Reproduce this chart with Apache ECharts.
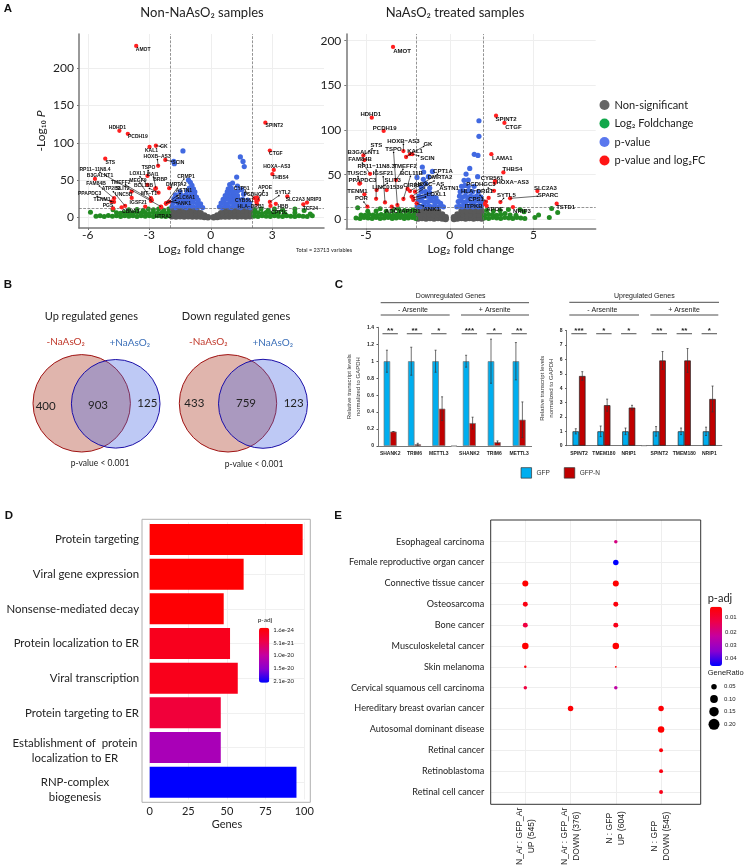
<!DOCTYPE html>
<html style="height: 100%">
<head>
    <meta charset="utf-8">
    <script src="https://cdn.jsdelivr.net/npm/echarts@6/dist/echarts.min.js"></script>
    <title>Arsenite response panels</title>
</head>
<body style="height: 100%; margin: 0; background: #fff">
<div id="container" style="width: 748px; height: 868px"></div>
<script type="text/javascript">
    // --- panel A data ---
    const legendNames = ['Non-significant', 'Log₂ Foldchange', 'p-value', 'p-value and log₂FC'];

    const gray1 = [
        [-1.9,1.5],[-1.9,5],[-1.9,9],[-1.7,1],[-1.7,5.5],[-1.7,9.5],[-1.5,1.5],[-1.5,5],[-1.5,9],[-1.3,1],[-1.3,5.5],[-1.3,9.5],
        [-1.1,1.5],[-1.1,5],[-1.1,9],[-0.9,1],[-0.9,5.5],[-0.9,9.5],[-0.7,1],[-0.7,5],[-0.7,9],[-0.5,1],[-0.5,5.5],[-0.32,0.5],[-0.32,2.5],[-0.14,0],
        [1.9,1.5],[1.9,5],[1.9,9],[1.7,1],[1.7,5.5],[1.7,9.5],[1.5,1.5],[1.5,5],[1.5,9],[1.3,1],[1.3,5.5],[1.3,9.5],
        [1.1,1.5],[1.1,5],[1.1,9],[0.9,1],[0.9,5.5],[0.9,9.5],[0.7,1],[0.7,5],[0.7,9],[0.5,1],[0.5,5.5],[0.32,0.5],[0.32,2.5],[0.14,0]
    ];
    const green1 = [
        [-5.87,6.7],[-5.6,1.5],[-5.4,2],[-5.2,1],[-5,2.5],[-4.8,1.5],[-4.6,2],[-4.4,1],[-4.2,2],[-4,1.5],[-3.8,2],[-3.6,1],[-3.4,2],[-3.2,1.5],[-3,2],[-2.8,1],[-2.6,2],[-2.4,1.5],[-2.2,1],[-2.05,2],
        [-4.6,6],[-4.4,5.5],[-4.2,6.5],[-4,5],[-3.8,6],[-3.6,6.5],[-3.4,5.5],[-3.2,6],[-3,5],[-2.8,6.5],[-2.6,5.5],[-2.4,6],[-2.2,5],[-2.05,6.5],
        [-4.77,10],[-4,10],[-3.6,10.5],[-3.3,9.5],[-3.05,11],[-2.8,10],[-2.55,11],[-2.3,9.5],[-2.05,11],
        [2.1,1.5],[2.3,1],[2.5,2],[2.7,1.5],[2.9,1],[3.1,2],[3.3,1.5],[3.5,1],[3.7,2],[3.9,1.5],[4.1,1],[4.3,2],[4.5,1.5],[4.7,1],[4.95,2],
        [2.1,5.5],[2.3,6],[2.5,5],[2.7,6.5],[2.9,5.5],[3.1,5],[3.3,6],[3.6,5],[4.1,6],[4.85,4.5],
        [2.15,10],[2.45,11],[2.8,9.5],[3.1,11],[3.5,10],[4.1,11],[4.55,9]
    ];
    const blue1 = [
        [-1.36,89],[-1.81,75],[-1.78,72],[-1.09,50],[-1,47],[-0.92,43],
        [-1.9,14],[-1.72,13],[-1.55,15],[-1.38,14],[-1.2,13],[-1.02,15],[-0.85,14],[-0.68,13],[-0.52,15],[-0.4,13],
        [-1.85,19],[-1.65,20],[-1.45,18],[-1.25,20],[-1.05,19],[-0.85,20],[-0.65,18],[-0.5,18],
        [-1.8,25],[-1.6,24],[-1.4,24],[-1.2,25],[-1,24],[-0.8,25],[-0.62,23],
        [-1.72,30],[-1.42,29],[-1.22,30],[-1,29],[-0.8,30],[-0.7,27],
        [-1.5,34],[-1.15,35],[-0.95,34],[-0.78,34],[-1.05,39],[-0.85,38],
        [1.44,81],[1.57,75],[1.63,68],[1.26,54],[1.06,46],[0.92,44],[1.3,42],
        [0.42,14],[0.55,13],[0.7,15],[0.85,14],[1,13],[1.15,15],[1.3,14],[1.45,13],[1.6,15],[1.75,14],[1.92,13],
        [0.5,19],[0.65,20],[0.8,18],[0.95,20],[1.1,19],[1.25,20],[1.4,18],[1.55,19],[1.75,18],[1.9,19],
        [0.6,24],[0.75,25],[0.9,24],[1.05,25],[1.2,24],[1.35,24],[1.55,24],[1.8,23],
        [0.7,29],[0.85,30],[1,29],[1.15,30],[1.3,29],[1.6,31],
        [0.8,34],[0.95,35],[1.1,34],[1.3,35],[0.85,38],[1,39],[1.5,37]
    ];
    const genes1 = [
        ['AMOT',-3.64,230],['HDHD1',-4.46,116],['PCDH19',-4.05,112],['GK',-2.68,96],['KAL1',-2.99,94.4],['SCIN',-2.22,77],
        ['HOXB−AS3',-2.57,69],['STS',-5.15,78.7],['RP11−11N8.4',-2.43,14.3],['B3GALNT1',-5.65,51.5],['FAM84B',-4.72,25.5],
        ['PPAPDC3',-4.84,21],['TENM1',-4.72,20.6],['ATP2B3',-4.18,15.2],['SLIT2',-3.86,34.5],['UNC5B',-3.86,26],['TMEFF2',-2.88,23],
        ['PGS',-4.77,12],['CBNA3',-4.35,13.4],['IGSF21',-3.2,14.3],['TSPO',-3.09,55.5],['LOXL1',-3.09,43.4],['BAI1',-2.68,39],
        ['MEGF9',-2.92,25.5],['BRBP',-2.71,38],['CRMP1',-2.19,18.8],['DMRTA2',-2.03,39],['BCL11B',-2.55,33],['MT−T1',-2.92,22],
        ['ASTN1',-2.19,18],['SLC6A1',-2.11,19.7],['ANK1',-2.03,21],['HTRA3',-2.42,13.4],
        ['CYP51',2.14,25.5],['APOE',2.3,23.3],['SYTL2',2.88,20.6],['PCDHGC3',2.25,26.8],['CYB561',2.22,21],['HLA−DRB1',2.25,18],
        ['SLC2A3',3.73,28],['NRIP3',4.69,19.7],['TCF24',4.51,17.4],['HBB',3.17,18],['CPT1C',2.91,15.2],
        ['SPINT2',2.66,127],['CTGF',2.88,89.5],['HOXA−AS3',3.07,63.5],['THBS4',3,58]
    ];
    // label offset in px from its point: dx, dy, connector on/off
    const shift1 = {
        'AMOT':[7,4,0],'HDHD1':[-2,-3,0],'PCDH19':[10,3,0],'GK':[8,1,1],'KAL1':[2,4,0],'SCIN':[13,3,1],'HOXB−AS3':[-1,-9,1],'STS':[5,4,0],
        'RP11−11N8.4':[-66,-37,1],'B3GALNT1':[5,-3,0],'FAM84B':[-18,-15,1],'PPAPDC3':[-22,-8,1],'TENM1':[-12,-2,1],'ATP2B3':[-14,-17,1],
        'SLIT2':[-9,-3,0],'UNC5B':[-8,-3,0],'TMEFF2':[-31,-18,1],'PGS':[-5,-3,0],'CBNA3':[9,4,0],'IGSF21':[-7,-4,0],'TSPO':[1,-8,1],
        'LOXL1':[-10,-11,1],'BAI1':[-3,-14,1],'MEGF9':[-13,-18,1],'BRBP':[5,-9,0],'CRMP1':[20,-27,1],'DMRTA2':[7,-4,1],'BCL11B':[-15,-7,1],
        'MT−T1':[-2,-7,0],'ASTN1':[18,-13,1],'SLC6A1':[18,-5,1],'ANK1':[15,2,1],'HTRA3':[2,9,0],'CYP51':[-13,-10,1],'APOE':[7,-12,1],
        'SYTL2':[13,-9,1],'PCDHGC3':[-1,-3,0],'CYB561':[-12,-1,0],'HLA−DRB1':[-6,3,0],'SLC2A3':[8,3,0],'NRIP3':[7,-3,0],'TCF24':[7,4,0],
        'HBB':[7,3,0],'CPT1C':[9,7,0],'SPINT2':[9,3,0],'CTGF':[6,3,0],'HOXA−AS3':[3,-3,0],'THBS4':[8,4,0]
    };

    const gray2 = [
        [-1.9,1],[-1.9,5],[-1.9,9.5],[-1.66,1.5],[-1.66,5.5],[-1.66,10],[-1.42,1],[-1.42,5],[-1.42,9.5],[-1.18,1.5],[-1.18,5.5],[-1.18,10],
        [-0.94,1],[-0.94,5],[-0.94,9.5],[-0.7,1.5],[-0.7,5.5],[-0.7,9.5],[-0.46,1],[-0.46,5.5],[-0.25,0.5],[-0.25,2.5],
        [1.9,1],[1.9,5],[1.9,9.5],[1.66,1.5],[1.66,5.5],[1.66,10],[1.42,1],[1.42,5],[1.42,9.5],[1.18,1.5],[1.18,5.5],[1.18,10],
        [0.94,1],[0.94,5],[0.94,9.5],[0.7,1.5],[0.7,5.5],[0.7,9.5],[0.46,1],[0.46,5.5],[0.25,0.5],[0.25,2.5]
    ];
    const green2 = [
        [-5.6,1.5],[-5.36,1],[-5.12,2],[-4.88,1.5],[-4.64,1],[-4.4,2],[-4.16,1],[-3.92,1.5],[-3.68,2],[-3.44,1],[-3.2,1.5],[-2.96,2],[-2.72,1],[-2.48,1.5],[-2.24,2],[-2.04,1],
        [-5.3,5],[-5.06,4.5],[-4.82,5.5],[-4.58,5],[-4.34,4.5],[-4.1,5.5],[-3.86,5],[-3.62,5],[-3.38,4.5],[-3.14,5.5],[-2.9,5],[-2.66,4.5],[-2.42,5.5],[-2.18,5],
        [-5.5,13],[-4.16,12],[-3.07,12],[-4.9,9],[-4.4,9.5],[-3.8,9],[-3.4,10],[-3,9],[-2.7,10],[-2.45,9.5],[-2.2,10.5],[-2.05,9],
        [2.08,1.5],[2.32,1],[2.56,2],[2.8,1.5],[3.04,1],[3.28,2],[3.52,1.5],[3.76,1],[4,2],[4.24,1.5],[4.48,1],
        [2.08,5],[2.32,5.5],[2.56,5],[2.8,4.5],[3.04,5.5],[3.3,6.7],[3.6,5],[3.95,4.5],
        [2.2,10],[2.6,9.5],[3,10],[3.5,11],[4.43,8.6],[4.19,11],
        [5.08,2.2],[5.3,4.9],[5.94,2.2],[6.08,12.3],[6.44,7.8]
    ];
    const blue2 = [
        [-1.64,58.6],[-1.56,53],[-1.96,47],[-1.04,53.7],[-1.28,47.8],[-1.58,44.8],[-1.45,40],[-1.7,36],[-1.2,35],
        [-1.95,15],[-1.78,14],[-1.6,15],[-1.42,14],[-1.24,15],[-1.06,14],[-0.88,15],[-0.7,14],[-0.52,15],[-0.38,14],
        [-1.9,20],[-1.7,21],[-1.5,19],[-1.3,20],[-1.1,21],[-0.9,19],[-0.7,20],[-0.55,18],
        [-1.85,26],[-1.62,25],[-1.42,26],[-1.2,25],[-1,25],[-0.82,24],
        [-1.7,31],[-1.45,31],[-1.2,30],
        [1.74,110.4],[1.74,93],[1.46,72.8],[1.68,71.6],[1.19,57],[1.66,47.8],[0.97,50.7],[0.85,43.7],[1.1,44],
        [0.42,14],[0.58,15],[0.74,14],[0.9,15],[1.06,14],[1.22,15],[1.38,14],[1.54,15],[1.7,14],[1.88,15],
        [0.5,20],[0.66,21],[0.82,19],[0.98,20],[1.14,21],[1.3,19],[1.46,20],[1.62,21],[1.8,19],[1.95,20],
        [0.58,26],[0.75,25],[0.92,26],[1.08,25],[1.24,26],[1.42,25],[1.6,26],[1.85,25],
        [0.62,31],[0.8,32],[0.98,31],[1.15,32],[1.35,31],[1.7,31],
        [0.7,37],[0.9,38],[1.1,37],[1.45,37]
    ];
    const genes2 = [
        ['AMOT',-3.39,193],['HDHD1',-4.66,113.8],['PCDH19',-3.95,99],['STS',-5.16,71.6],['B3GALNT1',-5.1,66.4],['FAM84B',-4.76,51],
        ['RP11−11N8.3',-4.4,23],['TUSC5',-5.36,40.3],['PPAPDC3',-5.4,40],['IGSF21',-3.87,19],['SLIT3',-4.37,32.8],['LINC01539',-3.77,32.8],
        ['TENM1',-5.1,28],['POR',-4.92,14.2],['TSPO',-3.13,16],['TMEFF2',-3.21,44],['HOXB−AS3',-2.77,76.5],['KAL1',-2.61,69.8],['GK',-2.38,73],
        ['SCIN',-2.24,73],['BCL11B',-2.77,22.8],['CIRBP',-2.52,34],['DMRTA2',-2.08,31],['CPT1A',-2.38,31.7],['HOXC−AS',-2.28,25.4],['ASTN1',-2.2,24],
        ['LOXL1',-2.18,21.6],['ANK1',-1.98,18],['ADCYAP1R1',-3.47,14.2],
        ['SPINT2',2.76,116],['CTGF',3.26,108],['LAMA1',2.48,73],['THBS4',3.2,52.6],['CYB561',2.7,43],['PCDHGC3',2.64,32],['HOXA−AS3',2.68,41],
        ['SLC2A3',5.23,31.7],['SPARC',3.6,23.5],['SYTL5',3.02,19.4],['HLA−DRB1',2.16,19.8],['CPS1',2.1,17.2],['ITPKB',2.2,15],['APOE',2.32,24],
        ['NRIP3',3.77,13.8],['TSTD1',6.38,17.5]
    ];
    const shift2 = {
        'AMOT':[9,4,0],'HDHD1':[-1,-3,0],'PCDH19':[1,-3,0],'STS':[13,-10,1],'B3GALNT1':[-1,-8,0],'FAM84B':[-10,-14,1],'RP11−11N8.3':[0,-32,1],
        'TUSC5':[-3,-10,1],'PPAPDC3':[3,-3,0],'IGSF21':[-2,-29,1],'SLIT3':[16,-10,1],'LINC01539':[1,-3,0],'TENM1':[-7,-3,0],'POR':[-6,-8,1],
        'TSPO':[-4,-56,1],'TMEFF2':[9,-14,1],'HOXB−AS3':[0,-10,1],'KAL1':[9,-6,1],'GK':[18,-10,1],'SCIN':[15,4,1],'BCL11B':[8,-26,1],'CIRBP':[5,-4,0],
        'DMRTA2':[25,-14,1],'CPT1A':[33,-20,1],'HOXC−AS':[18,-12,1],'ASTN1':[36,-10,1],'LOXL1':[23,-6,1],'ANK1':[15,6,1],'ADCYAP1R1':[11,5,1],
        'SPINT2':[10,4,0],'CTGF':[9,4,0],'LAMA1':[11,4,0],'THBS4':[9,-3,0],'CYB561':[-3,-3,0],'PCDHGC3':[-13,-6,1],'HOXA−AS3':[18,-0,0],
        'SLC2A3':[8,-3,0],'SPARC':[38,-3,1],'SYTL5':[6,-7,1],'HLA−DRB1':[-9,-10,1],'CPS1':[-9,-5,0],'ITPKB':[-13,0,0],'APOE':[6,11,0],'NRIP3':[9,4,0],
        'TSTD1':[9,4,0]
    };

    // --- panel B ---
    const vennCounts = [[400, 903, 125], [433, 759, 123]];
    const vennTitles = ['Up regulated genes', 'Down regulated genes'];

    // --- panel C ---
    const downGenes = ['SHANK2', 'TRIM6', 'METTL3'];
    const upGenes = ['SPINT2', 'TMEM180', 'NRIP1'];
    const downGfp = [[1, 1, 1], [1, 1, 1]];
    const downGfpN = [[0.17, 0.02, 0.44], [0.27, 0.045, 0.31]];
    const downGfpErr = [[0.13, 0.165, 0.13], [0.07, 0.26, 0.22]];
    const downGfpNErr = [[0, 0.012, 0.14], [0.07, 0.015, 0.21]];
    const upGfp = [[1, 1, 1], [1, 1, 1]];
    const upGfpN = [[4.85, 2.82, 2.65], [5.93, 5.93, 3.25]];
    const upGfpErr = [[0.18, 0.37, 0.23], [0.33, 0.23, 0.29]];
    const upGfpNErr = [[0.3, 0.42, 0.16], [0.62, 0.83, 0.9]];
    const downSig = [['**', '**', '*'], ['***', '*', '**']];
    const upSig = [['***', '*', '*'], ['**', '**', '*']];

    // --- panel D ---
    const terms = ['Protein targeting', 'Viral gene expression', 'Nonsense-mediated decay', 'Protein localization to ER',
        'Viral transcription', 'Protein targeting to ER', 'Establishment of  protein\nlocalization to ER', 'RNP-complex\nbiogenesis'];
    const termGenes = [99, 60.8, 47.9, 52, 57, 46, 46, 95];
    const termPadj = [1.6e-24, 1e-22, 3e-22, 2.1e-21, 2e-21, 4.2e-21, 1.3e-20, 2.1e-20];
    const padjTicks = ['1.6e-24', '5.1e-21', '1.0e-20', '1.5e-20', '2.1e-20'];

    // --- panel E ---
    const diseases = ['Esophageal carcinoma', 'Female reproductive organ cancer', 'Connective tissue cancer', 'Osteosarcoma', 'Bone cancer',
        'Musculoskeletal cancer', 'Skin melanoma', 'Cervical squamous cell carcinoma', 'Hereditary breast ovarian cancer',
        'Autosomal dominant disease', 'Retinal cancer', 'Retinoblastoma', 'Retinal cell cancer'];
    const contrasts = ['N_Ar : GFP_Ar\nUP (545)', 'N_Ar : GFP_Ar\nDOWN (376)', 'N : GFP\nUP (604)', 'N : GFP\nDOWN (545)'];
    // contrast index, disease index, gene ratio, p-adj
    const dots = [
        [2,0,0.02,0.02],[2,1,0.05,0.0455],[0,2,0.06,0.0023],[2,2,0.06,0.0023],[0,3,0.041,0.005],[2,3,0.041,0.004],
        [0,4,0.041,0.012],[2,4,0.041,0.006],[0,5,0.07,0.0023],[2,5,0.07,0.0023],[0,6,0.01,0.004],[2,6,0.006,0.003],
        [0,7,0.02,0.012],[2,7,0.02,0.025],[1,8,0.05,0.003],[3,8,0.05,0.003],[3,9,0.07,0.0023],[3,10,0.026,0.004],
        [3,11,0.026,0.005],[3,12,0.026,0.006]
    ];
    const ratioTicks = [0.05, 0.10, 0.15, 0.20];

    const LATO = 'Lato, sans-serif';
    const ARIAL = '"Liberation Sans", Arial, sans-serif';
    const pColors = ['#ff0000', '#ee0048', '#c500a0', '#8a00d0', '#0000ff'];

    let dom = document.getElementById("container");
    let chart = echarts.init(dom);

    let grids = [], xAxes = [], yAxes = [], series = [];

    function volcano(gridBox, xr, yr, xTicks, data, hLine, labelSize, yName) {
        const g = grids.length;
        grids.push(gridBox);
        xAxes.push({
            gridIndex: g, type: 'value', min: xr[0], max: xr[1], name: 'Log₂ fold change', nameLocation: 'middle', nameGap: 15,
            nameTextStyle: {fontFamily: LATO, fontSize: 12, color: '#222'},
            axisLine: {onZero: false, lineStyle: {color: '#777', width: 1.5}},
            axisTick: {length: 2, lineStyle: {color: '#777'}, customValues: xTicks},
            axisLabel: {customValues: xTicks, margin: 1, fontFamily: LATO, fontSize: 12, color: '#222', showMinLabel: true, showMaxLabel: true},
            splitLine: {show: true, lineStyle: {color: '#eeeeee'}}
        });
        const yTicks = [0, 50, 100, 150, 200];
        yAxes.push({
            gridIndex: g, type: 'value', min: yr[0], max: yr[1], name: yName, nameLocation: 'middle', nameGap: 32,
            nameTextStyle: {fontFamily: LATO, fontSize: 12, color: '#222', rich: {i: {fontStyle: 'italic', fontFamily: LATO, fontSize: 12, color: '#222'}}},
            axisLine: {show: true, onZero: false, lineStyle: {color: '#777', width: 1.5}},
            axisTick: {show: true, length: 2, lineStyle: {color: '#777'}, customValues: yTicks},
            axisLabel: {customValues: yTicks, margin: 5, fontFamily: LATO, fontSize: 12, color: '#222'},
            splitLine: {show: true, lineStyle: {color: '#eeeeee'}}
        });
        const common = {type: 'scatter', xAxisIndex: g, yAxisIndex: g, silent: true};
        series.push({...common, name: legendNames[0], data: data.gray, symbolSize: 6.5, itemStyle: {color: '#595959', opacity: 1}, z: 2});
        series.push({...common, name: legendNames[1], data: data.green, symbolSize: 5, itemStyle: {color: '#228B22', opacity: 1}, z: 3});
        series.push({...common, name: legendNames[2], data: data.blue, symbolSize: 5.2, itemStyle: {color: '#4169E1', opacity: 1}, z: 4,
            markLine: {
                silent: true, symbol: 'none', animation: false, label: {show: false},
                lineStyle: {color: '#666', type: 'dashed', width: 0.7},
                data: [{xAxis: -2}, {xAxis: 2}, {yAxis: hLine}]
            }});
        // connectors from a point to the edge of its moved label
        series.push({
            type: 'custom', xAxisIndex: g, yAxisIndex: g, silent: true, z: 6,
            data: data.genes.filter(d => (data.shift[d[0]] || [0, 0, 0])[2]).map(d => [d[1], d[2], data.shift[d[0]][0], data.shift[d[0]][1], d[0].length]),
            renderItem: function (params, api) {
                const p = api.coord([api.value(0), api.value(1)]);
                const dx = api.value(2), dy = api.value(3);
                const halfW = api.value(4) * labelSize * 0.36, halfH = labelSize * 0.55;
                const t = Math.max(0, 1 - Math.min(Math.abs(dx) > 0 ? halfW / Math.abs(dx) : 9, Math.abs(dy) > 0 ? halfH / Math.abs(dy) : 9));
                const ex = p[0] + dx * t, ey = p[1] + dy * t;
                return {type: 'group', children: [
                    {type: 'line', shape: {x1: p[0], y1: p[1], x2: ex, y2: ey}, style: {stroke: '#000', lineWidth: 0.6}},
                    {type: 'circle', shape: {cx: ex, cy: ey, r: 0.8}, style: {fill: '#000'}}
                ]};
            }
        });
        series.push({
            ...common, name: legendNames[3], z: 5, symbolSize: 4.3,
            itemStyle: {color: '#ff2020', opacity: 1},
            data: data.genes.map(d => ({name: d[0], value: [d[1], d[2]]})),
            label: {show: true, position: 'inside', formatter: '{b}', fontFamily: ARIAL, fontWeight: 'bold', fontSize: labelSize, color: '#111'},
            labelLayout: function (p) {
                const s = data.shift[data.genes[p.dataIndex][0]] || [0, 0, 0];
                return {dx: s[0], dy: s[1]};
            }
        });
    }

    volcano({left: 79, top: 34, width: 245, height: 194}, [-6.43, 5.52], [-14.4, 246], [-6, -3, 0, 3],
        {gray: gray1, green: green1, blue: blue1, genes: genes1, shift: shift1}, 12, 5, '-Log₁₀ {i|P}');
    volcano({left: 346.3, top: 34, width: 249.4, height: 194.3}, [-6.18, 8.71], [-10, 207.5], [-5, 0, 5],
        {gray: gray2, green: green2, blue: blue2, genes: genes2, shift: shift2}, 13.4, 6, '');

    // bar + error + significance group in one sub grid
    function barGroup(box, cats, yMax, yStep, gfp, gfpN, gfpErr, gfpNErr, sig, sigY, showY, edge, nameGap) {
        const g = grids.length;
        grids.push(box);
        xAxes.push({
            gridIndex: g, type: 'category', data: cats,
            axisLine: {lineStyle: {color: '#555', width: 0.8}}, axisTick: {show: false},
            axisLabel: {interval: 0, margin: 5, fontFamily: ARIAL, fontWeight: 'bold', fontSize: 5, color: '#222'}
        });
        yAxes.push({
            gridIndex: g, type: 'value', min: 0, max: yMax, interval: yStep, show: showY, splitLine: {show: false},
            name: showY ? 'Relative transcript levels\nnormalized to GAPDH' : '', nameLocation: 'middle', nameGap: nameGap,
            nameTextStyle: {fontFamily: ARIAL, fontSize: 6, color: '#333', lineHeight: 9},
            axisLine: {show: true, lineStyle: {color: '#555', width: 0.8}}, axisTick: {show: true, length: 1.5, lineStyle: {color: '#555'}},
            axisLabel: {margin: 4, fontFamily: ARIAL, fontWeight: 'bold', fontSize: 5, color: '#222'}
        });
        const base = {type: 'bar', xAxisIndex: g, yAxisIndex: g, barWidth: 6.5, barGap: 0, silent: true};
        series.push({...base, name: 'GFP', data: gfp, itemStyle: {color: '#00AEEF', borderColor: edge, borderWidth: 0.7}});
        series.push({...base, name: 'GFP-N', data: gfpN, itemStyle: {color: '#C00000', borderColor: edge, borderWidth: 0.7}});
        function errors(vals, errs, off) {
            series.push({
                type: 'custom', xAxisIndex: g, yAxisIndex: g, silent: true, z: 6,
                data: vals.map((v, i) => [i, v - errs[i], v + errs[i]]),
                renderItem: function (params, api) {
                    const lo = api.coord([api.value(0), api.value(1)]);
                    const hi = api.coord([api.value(0), api.value(2)]);
                    const x = lo[0] + off;
                    const st = {stroke: '#333', lineWidth: 0.7};
                    return {type: 'group', children: [
                        {type: 'line', shape: {x1: x, y1: lo[1], x2: x, y2: hi[1]}, style: st},
                        {type: 'line', shape: {x1: x - 1, y1: hi[1], x2: x + 1, y2: hi[1]}, style: st},
                        {type: 'line', shape: {x1: x - 1, y1: lo[1], x2: x + 1, y2: lo[1]}, style: st}
                    ]};
                }
            });
        }
        errors(gfp, gfpErr, -3.25);
        errors(gfpN, gfpNErr, 3.25);
        series.push({
            type: 'custom', xAxisIndex: g, yAxisIndex: g, silent: true, z: 6,
            data: sig.map((s, i) => [i, sigY, s]),
            renderItem: function (params, api) {
                const p = api.coord([api.value(0), api.value(1)]);
                const st = sig[params.dataIndex];
                return {type: 'group', children: [
                    {type: 'line', shape: {x1: p[0] - 7.7, y1: p[1], x2: p[0] + 7.7, y2: p[1]}, style: {stroke: '#222', lineWidth: 0.8}},
                    {type: 'text', x: p[0], y: p[1] - 2.5, style: {text: st, font: 'bold 8px ' + ARIAL, fill: '#222', textAlign: 'center', textVerticalAlign: 'middle'}}
                ]};
            }
        });
    }

    barGroup({left: 378, top: 327.3, width: 73, height: 118.7}, downGenes, 1.4, 0.2, downGfp[0], downGfpN[0], downGfpErr[0], downGfpNErr[0], downSig[0], 1.324, true, '#777', 13);
    barGroup({left: 456.9, top: 327.3, width: 74.7, height: 118.7}, downGenes, 1.4, 0.2, downGfp[1], downGfpN[1], downGfpErr[1], downGfpNErr[1], downSig[1], 1.324, false, '#777', 13);
    barGroup({left: 566.6, top: 330.7, width: 74.6, height: 115}, upGenes, 8, 1, upGfp[0], upGfpN[0], upGfpErr[0], upGfpNErr[0], upSig[0], 7.79, true, '#222', 7);
    barGroup({left: 646.8, top: 330.7, width: 75, height: 115}, upGenes, 8, 1, upGfp[1], upGfpN[1], upGfpErr[1], upGfpNErr[1], upSig[1], 7.79, false, '#222', 7);

    // panel D
    const gD = grids.length;
    grids.push({left: 149.7, top: 522.2, width: 154.5, height: 277.3});
    xAxes.push({
        gridIndex: gD, type: 'value', min: 0, max: 100, interval: 25, offset: 2.8, name: 'Genes', nameLocation: 'middle', nameGap: 17,
        nameTextStyle: {fontFamily: LATO, fontSize: 11, color: '#222'},
        axisLine: {show: false}, axisTick: {show: false},
        axisLabel: {margin: 4, fontFamily: LATO, fontSize: 11, color: '#222'},
        splitLine: {show: true, lineStyle: {color: '#f0f0f0'}}
    });
    // the two wrapped terms sit a little below their bars, the blank first line pushes them down
    const termPush = {'Establishment of  protein\nlocalization to ER': '{a| }\n', 'RNP-complex\nbiogenesis': '{b| }\n'};
    yAxes.push({
        gridIndex: gD, type: 'category', data: terms, inverse: true, offset: 7.7,
        axisLine: {show: false}, axisTick: {length: 1.5, alignWithLabel: true, lineStyle: {color: '#999'}},
        splitLine: {show: true, alignWithLabel: true, lineStyle: {color: '#f0f0f0'}},
        axisLabel: {
            interval: 0, margin: 3, fontFamily: LATO, fontSize: 11.4, color: '#222', lineHeight: 15,
            formatter: v => v.includes('\n') ? termPush[v] + v.split('\n').map(s => '{c|' + s + '}').join('\n') : v,
            rich: {
                c: {width: 128, align: 'center', fontFamily: LATO, fontSize: 11.4, color: '#222', lineHeight: 15},
                a: {lineHeight: 6, fontSize: 4},
                b: {lineHeight: 15, fontSize: 4}
            }
        }
    });
    const seriesD = series.length;
    series.push({
        type: 'bar', xAxisIndex: gD, yAxisIndex: gD, barWidth: 31, silent: true, encode: {x: 0, y: 1},
        data: terms.map((t, i) => [termGenes[i], t, termPadj[i]])
    });

    // panel E
    const gE = grids.length;
    const colTicks = [0, 1, 2, 3];
    const rowTicks = diseases.map((d, i) => i);
    grids.push({left: 490.7, top: 520, width: 210, height: 284.3});
    xAxes.push({
        gridIndex: gE, type: 'value', min: -0.765, max: 3.876, axisLine: {show: false}, axisTick: {show: false, customValues: colTicks},
        axisLabel: {customValues: colTicks, rotate: 90, align: 'center', margin: 32, fontFamily: ARIAL, fontSize: 8.5, lineHeight: 12, color: '#222',
            showMinLabel: true, showMaxLabel: true,
            formatter: v => v === 2 ? contrasts[v].split('\n').map(s => '{u|' + s + '}').join('\n') : contrasts[v],
            rich: {u: {padding: [0, 0, 0, 16], fontFamily: ARIAL, fontSize: 8.5, lineHeight: 12, color: '#222'}}},
        splitLine: {show: true, lineStyle: {color: '#eeeeee'}}
    });
    yAxes.push({
        gridIndex: gE, type: 'value', inverse: true, min: -1.04, max: 12.59, axisLine: {show: false}, axisTick: {show: false, customValues: rowTicks},
        axisLabel: {customValues: rowTicks, margin: 6.5, fontFamily: LATO, fontSize: 9.1, color: '#222',
            showMinLabel: true, showMaxLabel: true, formatter: v => diseases[v]},
        splitLine: {show: true, lineStyle: {color: '#eeeeee'}}
    });
    const seriesE = series.length;
    series.push({
        type: 'scatter', xAxisIndex: gE, yAxisIndex: gE, silent: true, data: dots, itemStyle: {opacity: 1},
        symbolSize: v => 24.6 * Math.sqrt(v[2]), z: 5
    });

    // annotation texts and rules
    function txt(text, x, y, size, opt) {
        opt = opt || {};
        return {type: 'text', x: x, y: y, z: 20, rotation: opt.rot || 0, style: {
            text: text, fill: opt.color || '#222', textAlign: opt.align || 'center', textVerticalAlign: 'middle',
            font: (opt.bold ? 'bold ' : '') + size + 'px ' + (opt.family || LATO)
        }};
    }
    function rule(x1, x2, y, color, w) {
        return {type: 'line', z: 20, shape: {x1: x1, y1: y, x2: x2, y2: y}, style: {stroke: color || '#222', lineWidth: w || 0.8}};
    }
    function circle(cx, cy, r, fill, stroke, w) {
        return {type: 'circle', z: 10, shape: {cx: cx, cy: cy, r: r}, style: {fill: fill, stroke: stroke, lineWidth: w}};
    }
    const RED = 'rgba(178,70,50,0.40)', BLUE = 'rgba(70,100,225,0.35)';
    let gfx = [
        txt('A', 8, 9, 11.5, {bold: true, family: ARIAL, color: '#111'}),
        txt('B', 8, 285, 11.5, {bold: true, family: ARIAL, color: '#111'}),
        txt('C', 339, 285, 11.5, {bold: true, family: ARIAL, color: '#111'}),
        txt('D', 9, 516, 11.5, {bold: true, family: ARIAL, color: '#111'}),
        txt('E', 338, 516, 11.5, {bold: true, family: ARIAL, color: '#111'}),
        txt('Non-NaAsO₂ samples', 202, 13, 13),
        txt('NaAsO₂ treated samples', 455, 13, 13),
        txt('Total = 23713 variables', 324, 250, 5.5),

        circle(81.7, 403.3, 48.7, RED, '#A01414', 1),
        circle(115.7, 403.8, 44.3, BLUE, '#1C10A8', 1),
        circle(228, 403.3, 48.7, RED, '#A01414', 1),
        circle(263, 403.8, 44.5, BLUE, '#1C10A8', 1),
        txt(vennTitles[0], 91.3, 316.7, 11),
        txt(vennTitles[1], 236, 316.7, 11),
        txt('-NaAsO₂', 65.7, 341.7, 10, {color: '#C0392B'}),
        txt('+NaAsO₂', 129.7, 342.7, 10, {color: '#3B6FB8'}),
        txt('-NaAsO₂', 208.3, 341.7, 10, {color: '#C0392B'}),
        txt('+NaAsO₂', 272.7, 342.7, 10, {color: '#3B6FB8'}),
        txt(String(vennCounts[0][0]), 45.7, 406.7, 11.5),
        txt(String(vennCounts[0][1]), 98, 405, 11.5),
        txt(String(vennCounts[0][2]), 147.3, 403.3, 11.5),
        txt(String(vennCounts[1][0]), 194.3, 403.3, 11.5),
        txt(String(vennCounts[1][1]), 246, 403.3, 11.5),
        txt(String(vennCounts[1][2]), 293.7, 403.3, 11.5),
        txt('p-value < 0.001', 100, 463.3, 8.5),
        txt('p-value < 0.001', 254, 464.3, 8.5),

        txt('Downregulated Genes', 450.7, 296.3, 7, {family: ARIAL}),
        rule(380.7, 529, 302.7),
        txt('- Arsenite', 413, 310, 7, {family: ARIAL}),
        txt('+ Arsenite', 494.7, 310, 7, {family: ARIAL}),
        rule(380.7, 449.7, 315), rule(461, 529, 315),
        txt('Upregulated Genes', 644.3, 296.3, 7, {family: ARIAL}),
        rule(569.3, 719, 302.3),
        txt('- Arsenite', 602.3, 310, 7, {family: ARIAL}),
        txt('+ Arsenite', 684, 310, 7, {family: ARIAL}),
        rule(569.3, 639, 315), rule(650.3, 718.3, 315),
        rule(451, 457, 446, '#555'), rule(641, 647, 445.7, '#555'),

        {type: 'rect', z: 9, shape: {x: 142, y: 519.3, width: 168.3, height: 283}, style: {fill: 'none', stroke: '#b0b0b0', lineWidth: 1}},
        txt('p-adj', 257.7, 620, 6.5, {align: 'left'}),
        {type: 'rect', z: 9, shape: {x: 490.7, y: 520, width: 210, height: 284.3}, style: {fill: 'none', stroke: '#333', lineWidth: 1}},
        txt('p-adj', 707.7, 598.7, 11, {align: 'left'}),
        txt('GeneRatio', 707.7, 672.7, 7.5, {align: 'left', family: ARIAL})
    ];
    const padjY = [630, 642.7, 655, 668.3, 680.7];
    padjTicks.forEach((t, i) => gfx.push(txt(t, 273.3, padjY[i], 6, {align: 'left'})));
    ['0.01', '0.02', '0.03', '0.04'].forEach((t, i) => gfx.push(txt(t, 725, [617.3, 632.3, 645.7, 658.3][i], 6, {align: 'left', family: ARIAL})));
    ratioTicks.forEach((r, i) => {
        const y = [686.7, 699, 711.7, 724.3][i];
        gfx.push({type: 'circle', z: 20, shape: {cx: 714, cy: y, r: 24.6 * Math.sqrt(r) / 2}, style: {fill: '#000'}});
        gfx.push(txt(r.toFixed(2), 724, y, 6, {align: 'left', family: ARIAL}));
    });

    chart.setOption({
        animation: false,
        backgroundColor: '#fff',
        grid: grids,
        xAxis: xAxes,
        yAxis: yAxes,
        series: series,
        legend: [
            {
                orient: 'vertical', left: 599.5, top: 99.5, padding: 0, itemWidth: 10, itemHeight: 10, itemGap: 7.5, selectedMode: false,
                icon: 'circle', textStyle: {fontFamily: LATO, fontSize: 11, color: '#222'},
                data: [
                    {name: legendNames[0], itemStyle: {color: '#666666', opacity: 1}},
                    {name: legendNames[1], itemStyle: {color: '#12A84B', opacity: 1}},
                    {name: legendNames[2], itemStyle: {color: '#5A78EE', opacity: 1}},
                    {name: legendNames[3], itemStyle: {color: '#FF1515', opacity: 1}}
                ]
            },
            {
                left: 520.7, top: 467.3, padding: 0, itemWidth: 10.5, itemHeight: 10.5, itemGap: 14, selectedMode: false,
                icon: 'rect', textStyle: {fontFamily: ARIAL, fontSize: 6.5, color: '#333'},
                data: [
                    {name: 'GFP', itemStyle: {color: '#00AEEF', borderColor: '#333', borderWidth: 0.7}},
                    {name: 'GFP-N', itemStyle: {color: '#C00000', borderColor: '#333', borderWidth: 0.7}}
                ]
            }
        ],
        visualMap: [
            {
                type: 'continuous', seriesIndex: seriesD, dimension: 2, min: 1.6e-24, max: 2.1e-20, inverse: true, calculable: false,
                left: 259, top: 627.7, itemWidth: 10.3, itemHeight: 55, padding: 0, text: null, inRange: {color: pColors}
            },
            {
                type: 'continuous', seriesIndex: seriesE, dimension: 3, min: 0.0023, max: 0.0455, inverse: true, calculable: false,
                left: 710, top: 606.7, itemWidth: 12, itemHeight: 59.3, padding: 0, text: null, inRange: {color: pColors}
            }
        ],
        graphic: {elements: gfx}
    }, true);
</script>
</body>
</html>
